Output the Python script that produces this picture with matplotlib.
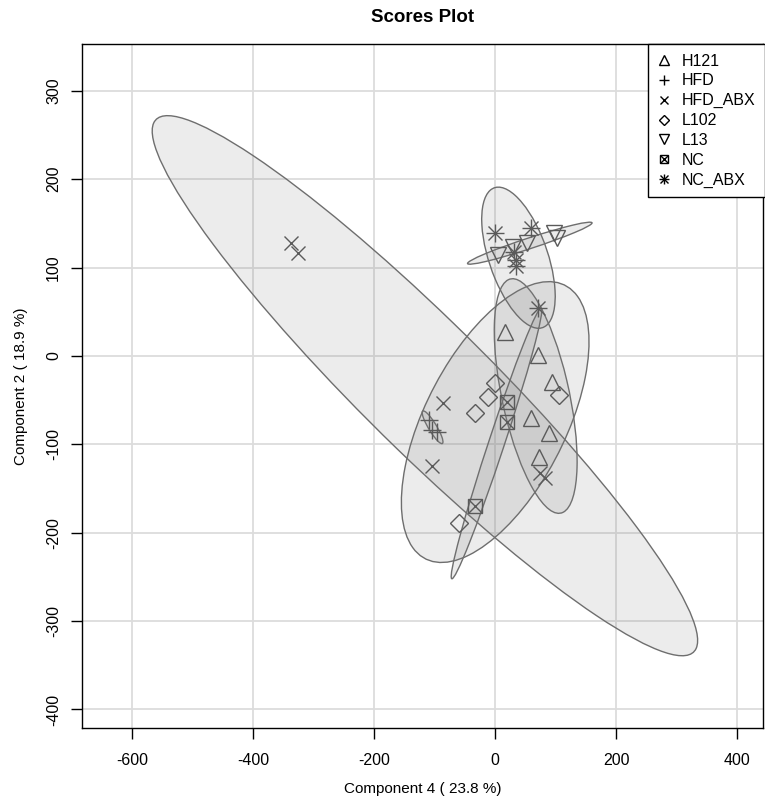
import numpy as np
import matplotlib
matplotlib.use("Agg")
import matplotlib.pyplot as plt
from matplotlib.patches import Ellipse
from matplotlib.lines import Line2D

plt.rcParams['font.family'] = ['Liberation Sans', 'DejaVu Sans']
plt.rcParams['axes.unicode_minus'] = False

# scores (component 4, component 2)
h121_x = [16, 71, 94, 60, 89, 73]
h121_y = [27, 1, -29, -70, -87, -114]
hfd_x = [-110, -104, -96]
hfd_y = [-72, -84, -86]
hfd_abx_x = [-337, -326, -86, -104, 74, 83]
hfd_abx_y = [128, 117, -53, -124, -132, -138]
l102_x = [0, -12, -33, 106, -60]
l102_y = [-31, -46, -64, -44, -189]
l13_x = [5, 30, 53, 97, 102]
l13_y = [114, 123, 128, 139, 134]
nc_x = [20, 20, -33]
nc_y = [-52, -75, -170]
nc_abx_x = [0, 60, 31, 35, 35, 71]
nc_abx_y = [139, 145, 118, 109, 102, 54]

groups = ['H121', 'HFD', 'HFD_ABX', 'L102', 'L13', 'NC', 'NC_ABX']
xs = [h121_x, hfd_x, hfd_abx_x, l102_x, l13_x, nc_x, nc_abx_x]
ys = [h121_y, hfd_y, hfd_abx_y, l102_y, l13_y, nc_y, nc_abx_y]

pt_col = '#5a5a5a'
# marker recipe per group: list of (marker, size)
marks = {
    'H121': [('^', 12)],
    'HFD': [('+', 13)],
    'HFD_ABX': [('x', 9.5)],
    'L102': [('D', 9)],
    'L13': [('v', 12)],
    'NC': [('s', 9.5), ('x', 9.5)],
    'NC_ABX': [('+', 13), ('x', 9.5)],
}

fig = plt.figure(figsize=(7.65, 8.1), dpi=100)
ax = fig.add_axes([82 / 765, 1 - 728 / 810, (763 - 82) / 765, (728 - 44) / 810])

# 95% confidence ellipses
t = np.sqrt(-2 * np.log(1 - 0.95))
for g, x, y in zip(groups, xs, ys):
    x = np.array(x, float)
    y = np.array(y, float)
    cov = np.cov(x, y)
    vals, vecs = np.linalg.eigh(cov)
    order = vals.argsort()[::-1]
    vals, vecs = vals[order], vecs[:, order]
    ang = np.degrees(np.arctan2(vecs[1, 0], vecs[0, 0]))
    e = Ellipse((x.mean(), y.mean()), 2 * t * np.sqrt(vals[0]), 2 * t * np.sqrt(vals[1]),
                angle=ang, facecolor=(0.5, 0.5, 0.5, 0.15), edgecolor='#6e6e6e', lw=1.0, zorder=2)
    ax.add_patch(e)

for g, x, y in zip(groups, xs, ys):
    for m, s in marks[g]:
        ax.plot(x, y, linestyle='none', marker=m, markersize=s, markerfacecolor='none',
                markeredgecolor=pt_col, markeredgewidth=1.0, zorder=3)

ax.set_xlim(-683, 443)
ax.set_ylim(-421, 353)
ax.set_xticks([-600, -400, -200, 0, 200, 400])
ax.set_yticks([-400, -300, -200, -100, 0, 100, 200, 300])
ax.grid(True, color='#dcdcdc', lw=1.3, zorder=0)
ax.set_axisbelow(True)
ax.tick_params(direction='out', length=8, width=1, labelsize=11.5)
ax.tick_params(axis='x', pad=10)
ax.tick_params(axis='y', pad=7)
for lab in ax.get_yticklabels():
    lab.set_rotation(90)
    lab.set_va('center')
for sp in ax.spines.values():
    sp.set_linewidth(1.0)

ax.set_xlabel('Component 4 ( 23.8 %)', fontsize=11, labelpad=10)
ax.set_ylabel('Component 2 ( 18.9 %)', fontsize=11, labelpad=13)
ax.set_title('Scores Plot', fontsize=13.5, fontweight='bold', pad=16)

handles = []
for g in groups:
    parts = [Line2D([], [], linestyle='none', marker=m, markersize=s * 0.6,
                    markerfacecolor='none', markeredgecolor='black', markeredgewidth=1.0)
             for m, s in marks[g]]
    handles.append(tuple(parts) if len(parts) > 1 else parts[0])
leg = ax.legend(handles, groups, loc='upper right', bbox_to_anchor=(1.003, 1.0),
                borderaxespad=0, fontsize=11.5,
                frameon=True, fancybox=False, edgecolor='black', framealpha=1,
                handlelength=0.8, handletextpad=0.7, labelspacing=0.3, borderpad=0.6)
leg.get_frame().set_linewidth(1.0)
leg.set_zorder(5)

fig.savefig('out.png', dpi=100)
